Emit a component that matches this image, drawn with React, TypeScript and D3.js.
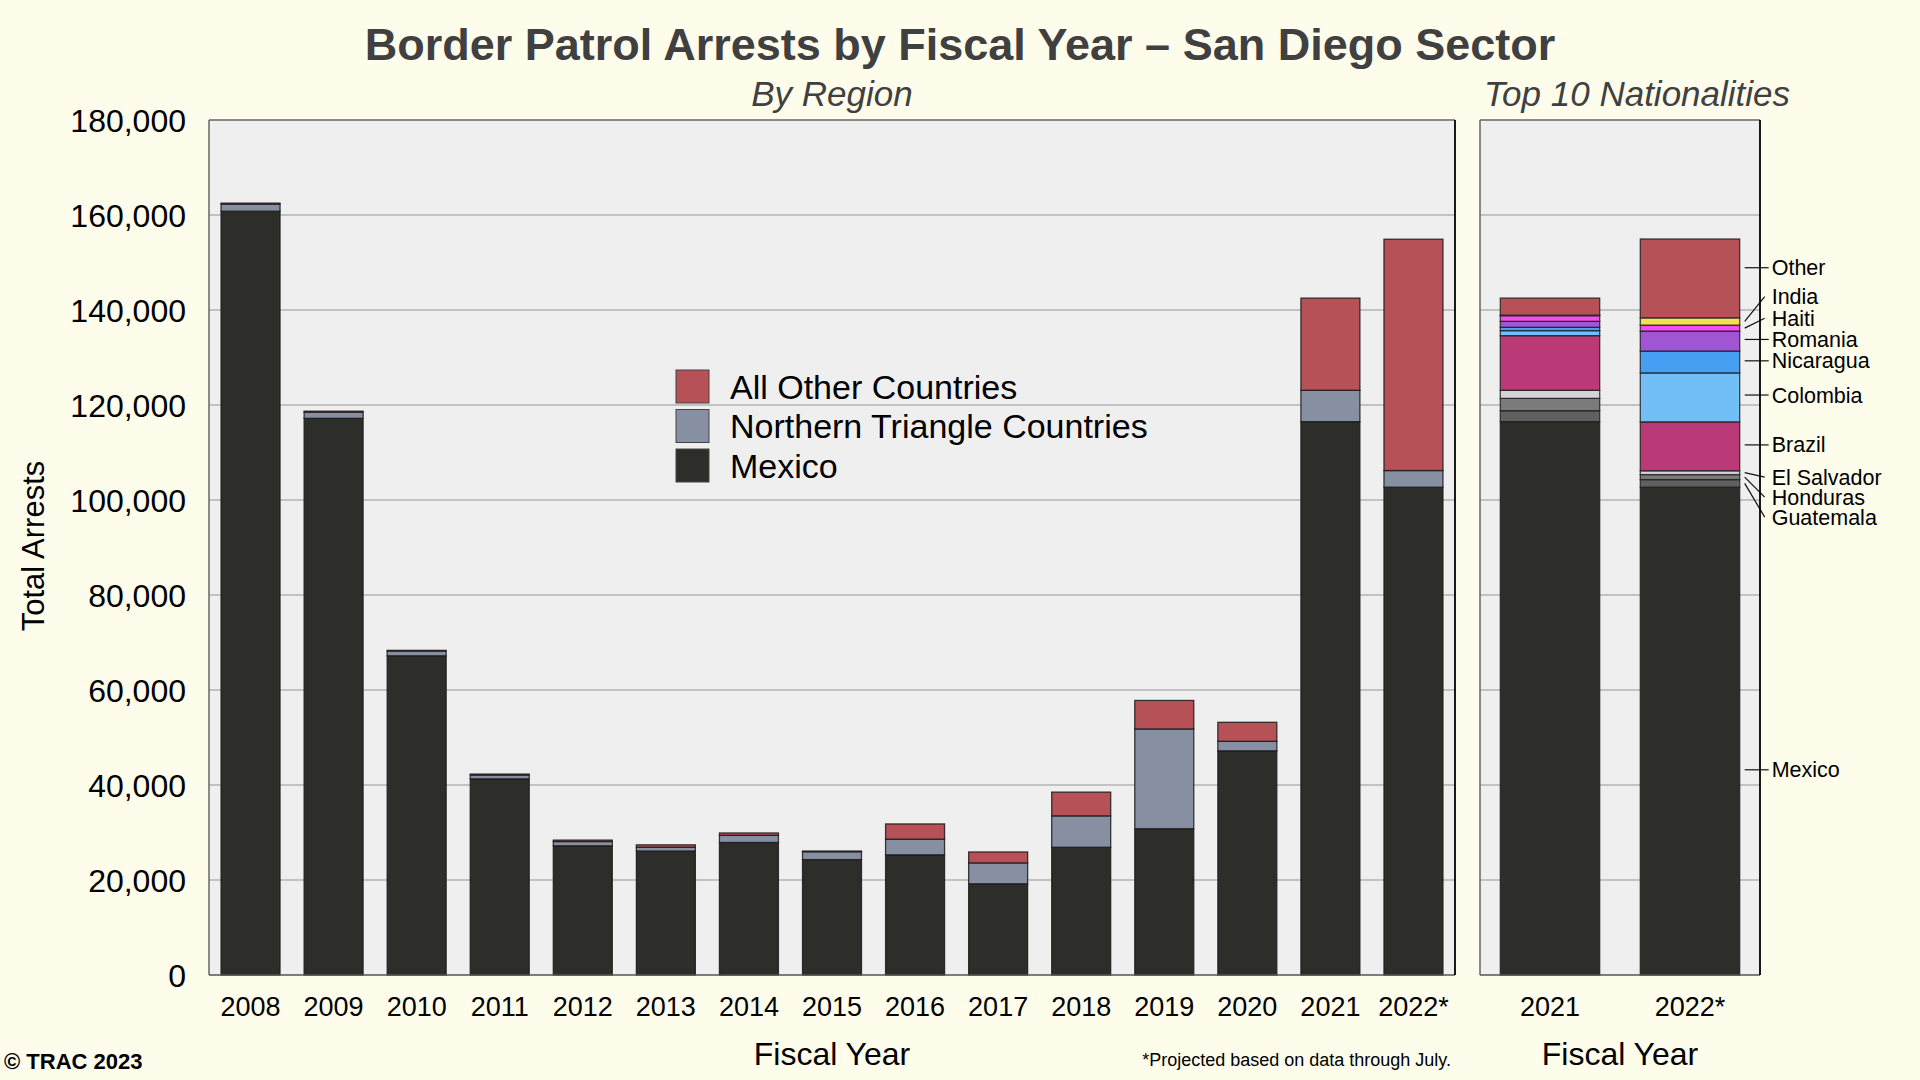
import React from 'react';
import * as d3 from 'd3';

// ---------- data ----------
const years = ['2008', '2009', '2010', '2011', '2012', '2013', '2014', '2015', '2016', '2017', '2018', '2019', '2020', '2021', '2022*'];
const mexico = [160800, 117200, 67200, 41300, 27200, 26100, 27900, 24300, 25300, 19200, 26900, 30800, 47200, 116500, 102700];
const northernTriangle = [1500, 1300, 1000, 800, 900, 800, 1500, 1650, 3300, 4400, 6600, 21000, 2000, 6600, 3500];
const allOther = [200, 200, 150, 200, 300, 500, 500, 150, 3200, 2300, 5000, 6000, 4000, 19400, 48700];

const regionSeries = ['Mexico', 'Northern Triangle Countries', 'All Other Countries'];
const regionColors = ['#2D2E2A', '#878FA3', '#B55157'];

const natYears = ['2021', '2022*'];
const nationalities = ['Mexico', 'Guatemala', 'Honduras', 'El Salvador', 'Brazil', 'Colombia', 'Nicaragua', 'Romania', 'Haiti', 'India', 'Other'];
const nat2021 = [116500, 2300, 2600, 1700, 11500, 1050, 700, 1260, 1200, 100, 3600];
const nat2022 = [102700, 1600, 1050, 800, 10300, 10300, 4600, 4200, 1260, 1540, 16600];
const natColors = ['#2D2E2A', '#606060', '#7B7B7B', '#D4D4D4', '#BA3A78', '#72BEF6', '#479FF3', '#A056D3', '#EE4EF2', '#F5DF55', '#B55157'];
// value at which each nationality label sits (next to the 2022 bar)
const natLabelAt = [43200, 96400, 100600, 104800, 111600, 122100, 129300, 133800, 138250, 142800, 148900];

const yTicks = [0, 20000, 40000, 60000, 80000, 100000, 120000, 140000, 160000, 180000];

// ---------- layout ----------
const W = 1920, H = 1080;
const top = 120, bottom = 975;
const leftX0 = 209, leftX1 = 1455;
const rightX0 = 1480, rightX1 = 1760;
const FONT = '"Liberation Sans", Arial, Helvetica, sans-serif';

export default function App() {
  const y = d3.scaleLinear().domain([0, 180000]).range([bottom, top]);
  const xL = d3.scaleBand<string>().domain(years).range([leftX0, leftX1]).paddingInner(0.29).paddingOuter(0.145);
  const xR = d3.scaleBand<string>().domain(natYears).range([rightX0, rightX1]).paddingInner(0.29).paddingOuter(0.145);
  const fmt = d3.format(',');

  const regionTable = years.map((yr, i) => ({ year: yr, Mexico: mexico[i], 'Northern Triangle Countries': northernTriangle[i], 'All Other Countries': allOther[i] }));
  const regionStack = d3.stack<any>().keys(regionSeries)(regionTable);

  const natTable = natYears.map((yr, i) => {
    const row: any = { year: yr };
    nationalities.forEach((n, j) => { row[n] = (i === 0 ? nat2021 : nat2022)[j]; });
    return row;
  });
  const natStack = d3.stack<any>().keys(nationalities)(natTable);

  const gridTicks = yTicks.filter(t => t > 0 && t < 180000);
  const segStroke = '#1b1b1b';

  const bar2022Right = (xR('2022*') as number) + xR.bandwidth();

  return (
    <svg width={W} height={H} style={{ position: 'absolute', left: 0, top: 0, display: 'block' }} fontFamily={FONT}>
      <rect x={0} y={0} width={W} height={H} fill="#FEFDEC" />

      {/* title */}
      <text x={960} y={60} textAnchor="middle" fontSize={45} fontWeight="bold" fill="#404040">
        Border Patrol Arrests by Fiscal Year – San Diego Sector
      </text>
      <text x={832} y={106} textAnchor="middle" fontSize={35} fontStyle="italic" fill="#404040">By Region</text>
      <text x={1637} y={106} textAnchor="middle" fontSize={35} fontStyle="italic" fill="#404040">Top 10 Nationalities</text>

      {/* panels */}
      {[[leftX0, leftX1], [rightX0, rightX1]].map(([a, b], k) => (
        <g key={'p' + k}>
          <rect x={a} y={top} width={b - a} height={bottom - top} fill="#EFEFEF" />
          {gridTicks.map(t => (
            <line key={t} x1={a} x2={b} y1={y(t)} y2={y(t)} stroke="#B3B3B3" strokeWidth={1.3} />
          ))}
        </g>
      ))}

      {/* region bars */}
      {regionStack.map((s, si) => (
        <g key={s.key}>
          {s.map((d: any, i: number) => (
            <rect key={i} x={xL(years[i])} width={xL.bandwidth()} y={y(d[1])} height={Math.max(0, y(d[0]) - y(d[1]))}
              fill={regionColors[si]} stroke={segStroke} strokeWidth={1.3} strokeOpacity={0.85} />
          ))}
        </g>
      ))}

      {/* nationality bars */}
      {natStack.map((s, si) => (
        <g key={s.key}>
          {s.map((d: any, i: number) => (
            <rect key={i} x={xR(natYears[i])} width={xR.bandwidth()} y={y(d[1])} height={Math.max(0, y(d[0]) - y(d[1]))}
              fill={natColors[si]} stroke={segStroke} strokeWidth={1.3} strokeOpacity={0.8} />
          ))}
        </g>
      ))}

      {/* nationality labels */}
      {natStack.map((s, si) => {
        const d: any = s[1];
        const y0 = y(d[0]), y1 = y(d[1]);
        const ly = y(natLabelAt[si]);
        const sy = ly >= y1 && ly <= y0 ? ly : (y0 + y1) / 2;
        const horiz = sy === ly;
        return (
          <g key={'l' + s.key}>
            <line x1={bar2022Right + 5} y1={sy} x2={bar2022Right + (horiz ? 29 : 25)} y2={ly} stroke="#111" strokeWidth={1.2} />
            <text x={bar2022Right + 32} y={ly} dy="0.35em" fontSize={21.5} fill="#000">{s.key}</text>
          </g>
        );
      })}

      {/* panel borders */}
      {[[leftX0, leftX1], [rightX0, rightX1]].map(([a, b], k) => (
        <g key={'b' + k}>
          <line x1={a} x2={b} y1={top} y2={top} stroke="#666" strokeWidth={1.5} />
          <line x1={a} x2={a} y1={top} y2={bottom} stroke="#666" strokeWidth={1.5} />
          <line x1={a} x2={b} y1={bottom} y2={bottom} stroke="#555" strokeWidth={1.5} />
          <line x1={b} x2={b} y1={top} y2={bottom} stroke="#000" strokeWidth={1.8} />
        </g>
      ))}

      {/* y axis labels */}
      {yTicks.map(t => (
        <text key={t} x={186} y={y(t)} dy="0.36em" textAnchor="end" fontSize={32} fill="#000">{fmt(t)}</text>
      ))}
      <text transform={`translate(44,546) rotate(-90)`} textAnchor="middle" fontSize={31} fill="#000">Total Arrests</text>

      {/* x axis labels */}
      {years.map(yr => (
        <text key={yr} x={(xL(yr) as number) + xL.bandwidth() / 2} y={1016} textAnchor="middle" fontSize={27} fill="#000">{yr}</text>
      ))}
      {natYears.map(yr => (
        <text key={'n' + yr} x={(xR(yr) as number) + xR.bandwidth() / 2} y={1016} textAnchor="middle" fontSize={27} fill="#000">{yr}</text>
      ))}
      <text x={832} y={1065} textAnchor="middle" fontSize={32} fill="#000">Fiscal Year</text>
      <text x={1620} y={1065} textAnchor="middle" fontSize={32} fill="#000">Fiscal Year</text>
      <text x={1451} y={1066} textAnchor="end" fontSize={18} fill="#000">*Projected based on data through July.</text>
      <text x={4} y={1069} fontSize={22} fontWeight="bold" fill="#000">© TRAC 2023</text>

      {/* legend */}
      {[2, 1, 0].map((si, k) => (
        <g key={'lg' + si} transform={`translate(676,${370 + k * 39.5})`}>
          <rect x={0} y={0} width={33} height={33} fill={regionColors[si]} stroke="#444" strokeWidth={1} />
          <text x={54} y={16.5} dy="0.36em" fontSize={34} fill="#000">{regionSeries[si]}</text>
        </g>
      ))}
    </svg>
  );
}
